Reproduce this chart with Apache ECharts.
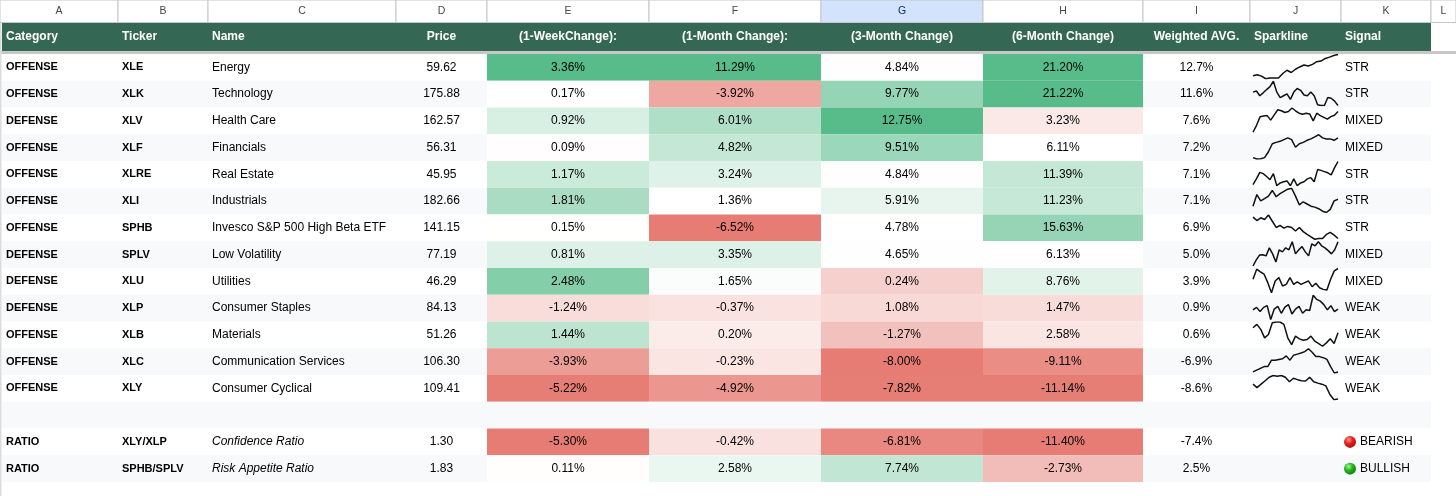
<!DOCTYPE html>
<html>
<head>
<meta charset="utf-8">
<title>Sector momentum sheet</title>
<script src="https://cdn.jsdelivr.net/npm/echarts@6/dist/echarts.min.js"></script>
<style>
  html, body { margin: 0; padding: 0; background: #fff; }
  #chart { width: 1456px; height: 496px; }
</style>
</head>
<body>
<div id="chart"></div>
<script>
// ---- data ----
var columnLetters = ['A', 'B', 'C', 'D', 'E', 'F', 'G', 'H', 'I', 'J', 'K', 'L'];
var headers = ['Category', 'Ticker', 'Name', 'Price', '(1-WeekChange):', '(1-Month Change):',
  '(3-Month Change)', '(6-Month Change)', 'Weighted AVG.', 'Sparkline', 'Signal'];

var categories = ['OFFENSE', 'OFFENSE', 'DEFENSE', 'OFFENSE', 'OFFENSE', 'OFFENSE', 'OFFENSE', 'DEFENSE',
  'DEFENSE', 'DEFENSE', 'OFFENSE', 'OFFENSE', 'OFFENSE', '', 'RATIO', 'RATIO'];
var tickers = ['XLE', 'XLK', 'XLV', 'XLF', 'XLRE', 'XLI', 'SPHB', 'SPLV', 'XLU', 'XLP', 'XLB', 'XLC', 'XLY', '',
  'XLY/XLP', 'SPHB/SPLV'];
var names = ['Energy', 'Technology', 'Health Care', 'Financials', 'Real Estate', 'Industrials',
  'Invesco S&P 500 High Beta ETF', 'Low Volatility', 'Utilities', 'Consumer Staples', 'Materials',
  'Communication Services', 'Consumer Cyclical', '', 'Confidence Ratio', 'Risk Appetite Ratio'];
var prices = [59.62, 175.88, 162.57, 56.31, 45.95, 182.66, 141.15, 77.19, 46.29, 84.13, 51.26, 106.30, 109.41, null, 1.30, 1.83];
var change1w = [3.36, 0.17, 0.92, 0.09, 1.17, 1.81, 0.15, 0.81, 2.48, -1.24, 1.44, -3.93, -5.22, null, -5.30, 0.11];
var change1m = [11.29, -3.92, 6.01, 4.82, 3.24, 1.36, -6.52, 3.35, 1.65, -0.37, 0.20, -0.23, -4.92, null, -0.42, 2.58];
var change3m = [4.84, 9.77, 12.75, 9.51, 4.84, 5.91, 4.78, 4.65, 0.24, 1.08, -1.27, -8.00, -7.82, null, -6.81, 7.74];
var change6m = [21.20, 21.22, 3.23, 6.11, 11.39, 11.23, 15.63, 6.13, 8.76, 1.47, 2.58, -9.11, -11.14, null, -11.40, -2.73];
var weighted = [12.7, 11.6, 7.6, 7.2, 7.1, 7.1, 6.9, 5.0, 3.9, 0.9, 0.6, -6.9, -8.6, null, -7.4, 2.5];
var signals = ['STR', 'STR', 'MIXED', 'MIXED', 'STR', 'STR', 'STR', 'MIXED', 'MIXED', 'WEAK', 'WEAK', 'WEAK', 'WEAK', '',
  'BEARISH', 'BULLISH'];

// sparkline shapes (relative price path, one per sector row)
var sparkXLE = [15, 18, 14, 6, 8, 8, 8, 22, 32, 25, 35, 42, 48, 45, 50, 58, 60, 68, 72, 77, 80];
var sparkXLK = [45, 48, 35, 43, 52, 60, 75, 45, 30, 35, 40, 25, 45, 55, 50, 37, 35, 45, 35, 10, 8, 8, 30, 28, 20, 8];
var sparkXLV = [5, 25, 50, 52, 53, 40, 55, 70, 67, 62, 65, 75, 67, 60, 57, 60, 58, 38, 60, 53, 48, 43, 50, 54, 65];
var sparkXLF = [8, 4, 5, 8, 25, 48, 52, 55, 60, 65, 60, 38, 48, 52, 58, 62, 68, 74, 65, 62, 62, 58, 65];
var sparkXLRE = [18, 32, 48, 45, 38, 30, 45, 15, 22, 25, 27, 15, 32, 15, 22, 25, 32, 35, 25, 55, 53, 50, 47, 42, 60, 75];
var sparkXLI = [25, 62, 42, 49, 57, 75, 55, 65, 72, 79, 82, 57, 29, 39, 32, 25, 22, 17, 9, 5, 15, 42, 47];
var sparkSPHB = [70, 60, 68, 63, 76, 58, 40, 46, 38, 43, 40, 30, 40, 28, 20, 13, 6, 8, 8, 20, 26, 18, 8];
var sparkSPLV = [9, 24, 36, 37, 34, 54, 39, 19, 49, 44, 54, 49, 69, 39, 49, 57, 44, 34, 64, 59, 69, 59, 54, 47, 39, 49, 69];
var sparkXLU = [45, 75, 67, 60, 35, 5, 40, 50, 25, 30, 50, 30, 37, 30, 35, 40, 23, 33, 20, 15, 13, 45, 70, 77];
var sparkXLP = [33, 40, 28, 40, 45, 5, 35, 43, 23, 41, 48, 21, 35, 43, 23, 33, 31, 75, 63, 58, 48, 33, 45, 28, 35];
var sparkXLB = [59, 69, 54, 29, 39, 74, 76, 76, 69, 29, 9, 34, 26, 22, 24, 34, 19, 12, 4, 14, 26, 12, 44];
var sparkXLC = [10, 15, 20, 25, 25, 43, 43, 45, 47, 55, 43, 57, 60, 63, 67, 75, 65, 53, 53, 50, 45, 25, 7, 10];
var sparkXLY = [48, 38, 48, 58, 68, 73, 71, 73, 68, 55, 65, 61, 58, 57, 68, 55, 51, 48, 43, 18, 3, 5];
var sparklines = [sparkXLE, sparkXLK, sparkXLV, sparkXLF, sparkXLRE, sparkXLI, sparkSPHB, sparkSPLV,
  sparkXLU, sparkXLP, sparkXLB, sparkXLC, sparkXLY];

// ---- styling ----
var FONT = '"Liberation Sans", Arial, Helvetica, sans-serif';
var RED = '#e67c73', WHITE = '#ffffff', GREEN = '#57bb8a';
var BAND = '#f8f9fa', HEAD = '#356854';

// sheet columns (pixel layout of the spreadsheet)
var colLeft = [2, 118, 208, 396, 487, 649, 821, 983, 1143, 1250, 1341, 1431];
var colRight = [118, 208, 396, 487, 649, 821, 983, 1143, 1250, 1341, 1431, 1456];
var headAlign = ['left', 'left', 'left', 'center', 'center', 'center', 'center', 'center', 'center', 'left', 'left'];

var DATA_TOP = 54, DATA_H = 428;
var ROW_H = DATA_H / categories.length;

// green-white-red colour scale, midpoint at the 50th percentile
function scaleColors(values) {
  var v = values.filter(function (x) { return x != null; }).sort(function (a, b) { return a - b; });
  var min = v[0], max = v[v.length - 1], mid = v[Math.floor(v.length / 2)];
  return values.map(function (x) {
    if (x == null) return null;
    if (x <= mid) return echarts.color.lerp((x - min) / (mid - min), [RED, WHITE]);
    return echarts.color.lerp((x - mid) / (max - mid), [WHITE, GREEN]);
  });
}

function pct2(x) { return x == null ? '' : x.toFixed(2) + '%'; }
function band(i) { return i % 2 ? BAND : '#ffffff'; }
function isRatio(i) { return categories[i] === 'RATIO'; }

function text(x, y, str, o) {
  return {
    type: 'text',
    z2: 10,
    style: {
      text: str, x: x, y: y,
      fill: o.color || '#000',
      fontSize: o.size || 12,
      fontWeight: o.weight || 'normal',
      fontStyle: o.italic ? 'italic' : 'normal',
      fontFamily: FONT,
      align: o.align, verticalAlign: 'middle',
      textAlign: o.align, textVerticalAlign: 'middle'
    }
  };
}

var grids = [], xAxes = [], yAxes = [], series = [];

function addGrid(box, rows) {
  var idx = grids.length;
  grids.push(Object.assign({ show: false, borderWidth: 0, containLabel: false }, box));
  xAxes.push({ gridIndex: idx, type: 'category', data: [''], show: false });
  yAxes.push({ gridIndex: idx, type: 'category', data: rows || [''], inverse: true, show: false });
  return idx;
}

// cell painter for a category grid: spec.fill(i), spec.label(i), spec.font(i)
function addCells(gridIndex, count, spec) {
  var data = [];
  for (var i = 0; i < count; i++) data.push([0, i]);
  series.push({
    type: 'custom',
    xAxisIndex: gridIndex, yAxisIndex: gridIndex,
    silent: true,
    data: data,
    encode: { x: 0, y: 1 },
    renderItem: function (params, api) {
      var i = params.dataIndex;
      var c = api.coord([0, i]);
      var s = api.size([1, 1]);
      var x0 = c[0] - s[0] / 2, y0 = c[1] - s[1] / 2;
      var children = [{
        type: 'rect',
        shape: { x: x0, y: y0, width: s[0], height: s[1] },
        style: { fill: spec.fill(i), stroke: spec.stroke || null, lineWidth: spec.stroke ? 1 : 0 }
      }];
      var f = spec.font(i);
      var lbl = spec.label(i);
      var tx = f.align === 'left' ? x0 + 4 + (f.indent || 0) : c[0];
      if (f.dot) {
        children.push({
          type: 'circle',
          z2: 10,
          shape: { cx: x0 + 9, cy: c[1], r: 6 },
          style: {
            fill: new echarts.graphic.RadialGradient(0.38, 0.32, 0.75, f.dot === 'red'
              ? [{ offset: 0, color: '#ff9b94' }, { offset: 0.45, color: '#e8231c' }, { offset: 1, color: '#a30c08' }]
              : [{ offset: 0, color: '#a8f59a' }, { offset: 0.45, color: '#27b51d' }, { offset: 1, color: '#0c7a0a' }])
          }
        });
      }
      if (lbl) children.push(text(tx, c[1], lbl, f));
      return { type: 'group', children: children };
    }
  });
}

// column letters row
columnLetters.forEach(function (L, k) {
  var g = addGrid({ left: colLeft[k] - (k === 0 ? 2 : 0), width: colRight[k] - colLeft[k] + (k === 0 ? 2 : 0), top: 0, height: 22.5 });
  addCells(g, 1, {
    stroke: '#c4c7c5',
    fill: function () { return L === 'G' ? '#d3e3fd' : '#ffffff'; },
    label: function () { return L; },
    font: function () { return { align: 'center', size: 10.5, color: L === 'G' ? '#0b2f6b' : '#444746' }; }
  });
});

// header row
headers.forEach(function (h, k) {
  var g = addGrid({ left: colLeft[k], width: colRight[k] - colLeft[k], top: 23, height: 28 });
  addCells(g, 1, {
    fill: function () { return HEAD; },
    label: function () { return h; },
    font: function () { return { align: headAlign[k], weight: 'bold', size: 12, color: '#ffffff' }; }
  });
});

// frozen-row divider and sheet left edge
addGrid({ show: true, backgroundColor: '#c7c7c7', left: 0, right: 0, top: 51, height: 3 });
addGrid({ show: true, backgroundColor: '#dadce0', left: 0, width: 1.5, top: 22, bottom: 0 });

// body columns
var rowIds = categories.map(function (_, i) { return 'r' + i; });
var fill1w = scaleColors(change1w), fill1m = scaleColors(change1m),
    fill3m = scaleColors(change3m), fill6m = scaleColors(change6m);

function pctColumn(values, fills) {
  return {
    fill: function (i) { return fills[i] || band(i); },
    label: function (i) { return pct2(values[i]); },
    font: function () { return { align: 'center' }; }
  };
}

var bodySpecs = [
  { fill: band, label: function (i) { return categories[i]; }, font: function () { return { align: 'left', weight: 'bold', size: 11 }; } },
  { fill: band, label: function (i) { return tickers[i]; }, font: function () { return { align: 'left', weight: 'bold', size: 11 }; } },
  { fill: band, label: function (i) { return names[i]; }, font: function (i) { return { align: 'left', italic: isRatio(i) }; } },
  { fill: band, label: function (i) { return prices[i] == null ? '' : prices[i].toFixed(2); }, font: function () { return { align: 'center' }; } },
  pctColumn(change1w, fill1w),
  pctColumn(change1m, fill1m),
  pctColumn(change3m, fill3m),
  pctColumn(change6m, fill6m),
  { fill: band, label: function (i) { return weighted[i] == null ? '' : weighted[i].toFixed(1) + '%'; }, font: function () { return { align: 'center' }; } },
  { fill: band, label: function () { return ''; }, font: function () { return { align: 'left' }; } },
  {
    fill: band,
    label: function (i) { return signals[i]; },
    font: function (i) {
      if (signals[i] === 'BEARISH') return { align: 'left', dot: 'red', indent: 15 };
      if (signals[i] === 'BULLISH') return { align: 'left', dot: 'green', indent: 15 };
      return { align: 'left' };
    }
  }
];

bodySpecs.forEach(function (spec, k) {
  var g = addGrid({ left: colLeft[k], width: colRight[k] - colLeft[k], top: DATA_TOP, height: DATA_H }, rowIds);
  addCells(g, categories.length, spec);
});

// sparklines, one small grid per sector row
sparklines.forEach(function (vals, i) {
  var idx = grids.length;
  grids.push({ show: false, left: 1253, width: 85, top: DATA_TOP + i * ROW_H + 0.5, height: ROW_H - 2.5 });
  xAxes.push({ gridIndex: idx, type: 'category', boundaryGap: false, data: vals.map(function (_, k) { return k; }), show: false });
  yAxes.push({ gridIndex: idx, type: 'value', min: 'dataMin', max: 'dataMax', show: false, splitLine: { show: false } });
  series.push({
    type: 'line',
    name: tickers[i],
    xAxisIndex: idx, yAxisIndex: idx,
    data: vals,
    symbol: 'none',
    silent: true,
    z: 5,
    lineStyle: { color: '#111111', width: 1.5 }
  });
});

var chart = echarts.init(document.getElementById('chart'));
chart.setOption({
  animation: false,
  backgroundColor: '#ffffff',
  grid: grids,
  xAxis: xAxes,
  yAxis: yAxes,
  series: series
});
</script>
</body>
</html>
